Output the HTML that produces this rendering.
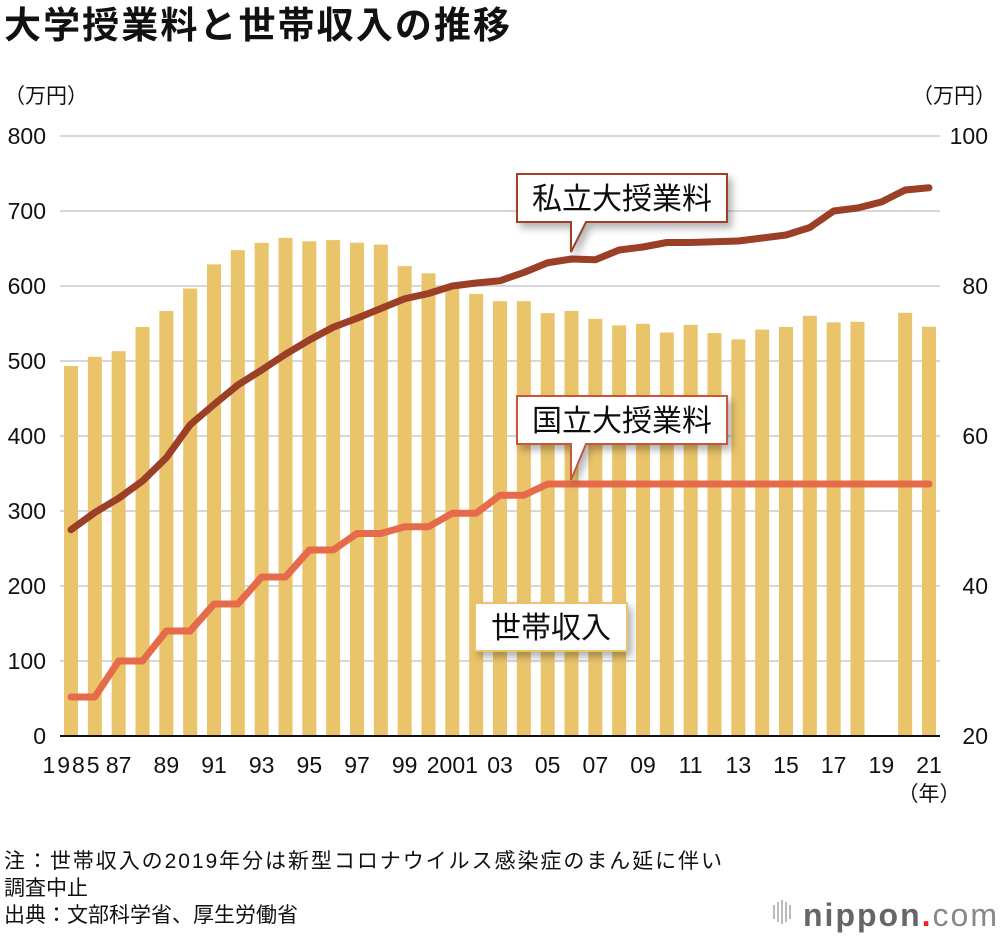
<!DOCTYPE html>
<html><head><meta charset="utf-8"><style>
body{margin:0;background:#fff;width:1000px;height:938px;overflow:hidden;font-family:"Liberation Sans","Noto Sans CJK JP",sans-serif}
svg text{font-family:"Liberation Sans","Noto Sans CJK JP",sans-serif}
</style></head><body>
<svg id="chart" width="1000" height="938" xmlns="http://www.w3.org/2000/svg">
<defs><filter id="sh" x="-20%" y="-30%" width="150%" height="180%"><feDropShadow dx="4" dy="5" stdDeviation="4" flood-color="#000" flood-opacity="0.3"/></filter></defs>
<text x="4" y="38" font-size="37" font-weight="bold" fill="#111" textLength="506">大学授業料と世帯収入の推移</text>
<text x="4" y="103" font-size="21" fill="#111">（万円）</text>
<text x="996" y="103" font-size="21" fill="#111" text-anchor="end">（万円）</text>
<g id="grid"></g><g id="bars"></g><g id="lines"></g><g id="axes"></g><g id="callouts"></g>
<text x="929" y="801" font-size="21" fill="#111" text-anchor="middle">（年）</text>
<text x="4" y="868" font-size="21" fill="#111" textLength="718">注：世帯収入の2019年分は新型コロナウイルス感染症のまん延に伴い</text>
<text x="4" y="895" font-size="21" fill="#111">調査中止</text>
<text x="4" y="922" font-size="21" fill="#111">出典：文部科学省、厚生労働省</text>
<g>
<g fill="#bbb"><rect x="773" y="905" width="2" height="14"/><rect x="777" y="902" width="2" height="20"/><rect x="781" y="900" width="2" height="24"/><rect x="785" y="902" width="2" height="20"/><rect x="789" y="905" width="2" height="14"/></g>
<text x="803" y="926" font-size="32" fill="#666" font-weight="bold" textLength="194">nippon<tspan fill="#e22">.</tspan><tspan font-weight="normal" fill="#888">com</tspan></text>
</g>
</svg>
<script>
const years=[1985,1986,1987,1988,1989,1990,1991,1992,1993,1994,1995,1996,1997,1998,1999,2000,2001,2002,2003,2004,2005,2006,2007,2008,2009,2010,2011,2012,2013,2014,2015,2016,2017,2018,2019,2020,2021];
const income=[493.3,505.6,513.1,545.3,566.7,596.6,628.8,647.8,657.5,664.2,659.6,661.2,657.7,655.2,626.5,616.9,602.0,589.3,579.7,579.8,563.8,566.8,556.2,547.5,549.6,538.0,548.2,537.2,528.9,541.9,545.4,560.2,551.6,552.3,null,564.3,545.7];
const privateFee=[47.5,49.8,51.7,54.0,57.1,61.5,64.2,66.8,68.8,70.9,72.8,74.5,75.7,77.0,78.3,79.0,80.0,80.4,80.7,81.8,83.1,83.6,83.5,84.8,85.2,85.8,85.8,85.9,86.0,86.4,86.8,87.8,90.0,90.4,91.2,92.8,93.1];
const nationalFee=[25.2,25.2,30.0,30.0,34.0,34.0,37.6,37.6,41.2,41.2,44.8,44.8,47.0,47.0,47.9,47.9,49.7,49.7,52.1,52.1,53.6,53.6,53.6,53.6,53.6,53.6,53.6,53.6,53.6,53.6,53.6,53.6,53.6,53.6,53.6,53.6,53.6];
const leftTicks=[0,100,200,300,400,500,600,700,800];
const rightTicks=[20,40,60,80,100];
const xTickLabels=["1985","87","89","91","93","95","97","99","2001","03","05","07","09","11","13","15","17","19","21"];
const NS="http://www.w3.org/2000/svg";
const X0=71,X1=929,Y0=736,Y1=136;
const xs=i=>X0+(X1-X0)*i/(years.length-1);
const yl=v=>Y0-(v/800)*(Y0-Y1);
const yr=v=>Y0-((v-20)/80)*(Y0-Y1);
function mk(t,a,p){const e=document.createElementNS(NS,t);for(const k in a)e.setAttribute(k,a[k]);p.appendChild(e);return e;}
const grid=document.getElementById('grid'),axes=document.getElementById('axes');
leftTicks.forEach(v=>{
 if(v>0){const l=mk('line',{x1:60,x2:940,y1:yl(v),y2:yl(v),stroke:'#ccc','stroke-width':1.5},grid);
 
 }
 const t=mk('text',{x:46,y:yl(v)+8,'font-size':23,'text-anchor':'end',fill:'#111'},axes);t.textContent=v;
 
 
});
rightTicks.forEach(v=>{
 const t=mk('text',{x:988,y:yr(v)+8,'font-size':23,'text-anchor':'end',fill:'#111'},axes);t.textContent=v;
 
 
});
const bars=document.getElementById('bars');
income.forEach((v,i)=>{if(v==null)return;
 const r=mk('rect',{x:xs(i)-7,y:yl(v),width:14,height:Y0-yl(v),fill:'#e9c46a'},bars);
 
 
});
const base=mk('line',{x1:60,x2:940,y1:Y0,y2:Y0,stroke:'#111','stroke-width':2},axes);


xTickLabels.forEach((s,k)=>{
 const i=k*2;const t=mk('text',{x:xs(i),y:773,'font-size':23,'text-anchor':'middle',fill:'#111'},axes);t.textContent=s;
 if(k===0)t.setAttribute('textLength','57');
 
 
});
const lines=document.getElementById('lines');
const pn=mk('polyline',{points:nationalFee.map((v,i)=>xs(i)+','+yr(v)).join(' '),fill:'none',stroke:'#e66b4a','stroke-width':7,'stroke-linejoin':'round','stroke-linecap':'round'},lines);


const pp=mk('polyline',{points:privateFee.map((v,i)=>xs(i)+','+yr(v)).join(' '),fill:'none',stroke:'#9c3f27','stroke-width':7,'stroke-linejoin':'round','stroke-linecap':'round'},lines);


const co=document.getElementById('callouts');
function callout(name,x,y,w,h,tip,col,txt,ptr){
 const g=mk('g',{filter:'url(#sh)'},co);
 
 
 let d='M'+x+','+y+'h'+w+'v'+h;
 if(ptr){d+='H586L'+tip[0]+','+tip[1]+'L571,'+(y+h);}
 d+='H'+x+'Z';
 mk('path',{d:d,fill:'#fff',stroke:col,'stroke-width':2},g);
 const t=mk('text',{x:x+w/2,y:y+h/2+11,'font-size':30,'text-anchor':'middle',fill:'#111'},g);t.textContent=txt;
}
callout('private-tuition-label',517,174,210,48,[571,252],'#9c3f27','私立大授業料',true);
callout('national-tuition-label',517,396,210,48,[571,480],'#c9573a','国立大授業料',true);
callout('household-income-label',475,603,152,48,null,'#e9c46a','世帯収入',false);
</script>
</body></html>
